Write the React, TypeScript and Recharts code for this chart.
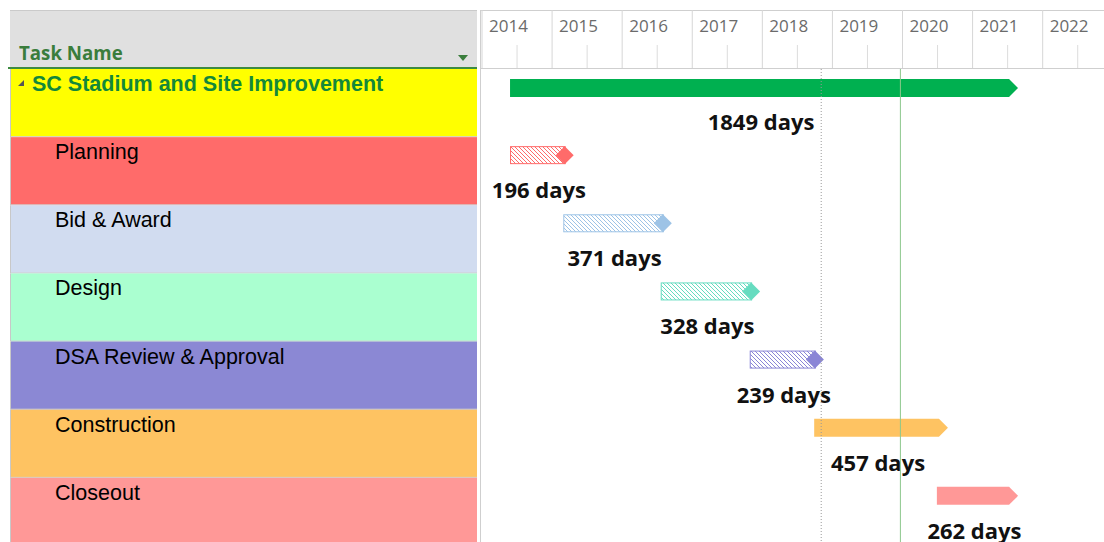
import React from "react";
import { Bar, BarChart, ReferenceLine, XAxis, YAxis } from "recharts";

// 甘特图：任务名称、起止年份（小数年）、工期标签
const tasks = [
  "SC Stadium and Site Improvement",
  "Planning",
  "Bid & Award",
  "Design",
  "DSA Review & Approval",
  "Construction",
  "Closeout",
];
const startYears = [2014.4, 2014.4, 2015.16, 2016.55, 2017.82, 2018.74, 2020.49];
const finishYears = [2021.52, 2015.18, 2016.58, 2017.84, 2018.75, 2020.52, 2021.52];
const durationDays = [1849, 196, 371, 328, 239, 457, 262];
const yearTicks = [2014, 2015, 2016, 2017, 2018, 2019, 2020, 2021, 2022];
const statusDate = 2018.84;
const currentDate = 2019.97;

// 样式（与数据分开）
const rowFills = ["#FFFF00", "#FF6B6A", "#D1DCF0", "#AAFFD0", "#8B88D4", "#FEC362", "#FF9897"];
const barColors = ["#00B050", "#FF6B6A", "#9DC3E6", "#66DCC0", "#8A85D6", "#FEC362", "#FF9897"];
const barKinds = ["summary", "hatched", "hatched", "hatched", "hatched", "solid", "solid"];

const W = 1104;
const H = 546;
const HEADER_TOP = 10;
const HEADER_BOTTOM = 69;
const ROW_H = (H - HEADER_BOTTOM) / tasks.length;
const LEFT_W = 482;

const data = tasks.map((task, i) => ({
  task,
  span: [startYears[i], finishYears[i]],
  days: durationDays[i],
}));

// 时间轴刻度：整年画竖线和年份，半年只画短线
function YearTick(props: any) {
  const { x, payload } = props;
  const v = payload.value as number;
  if (!Number.isInteger(v)) {
    return <line x1={x} x2={x} y1={45} y2={HEADER_BOTTOM - 1} stroke="#dcdcdc" />;
  }
  return (
    <g>
      <line x1={x} x2={x} y1={HEADER_TOP} y2={HEADER_BOTTOM - 1} stroke="#d6d6d6" />
      <text
        x={x + 7}
        y={32}
        fontFamily="'Open Sans', sans-serif"
        fontSize={17}
        fill="#6b6b6b"
      >
        {v}
      </text>
    </g>
  );
}

// 左侧任务表：每行底色 + 任务名
function TaskTick(props: any) {
  const { y, index, payload } = props;
  const top = y - ROW_H / 2;
  const isSummary = index === 0;
  return (
    <g>
      <rect x={11} y={top} width={466} height={ROW_H} fill={rowFills[index]} />
      <line x1={10.5} x2={10.5} y1={top} y2={top + ROW_H} stroke="#c8c8c8" />
      <line x1={11} x2={477} y1={top + ROW_H - 0.5} y2={top + ROW_H - 0.5} stroke="#d2d2d2" />
      {isSummary && <polygon points={`18,${top + 17} 24,${top + 11} 24,${top + 17}`} fill="#555" />}
      <text
        x={isSummary ? 32 : 55}
        y={top + 22}
        fontFamily="'Liberation Sans', Arial, sans-serif"
        fontSize={21.5}
        fontWeight={isSummary ? 700 : 400}
        fill={isSummary ? "#13883A" : "#000"}
      >
        {payload.value}
      </text>
    </g>
  );
}

// 甘特条：汇总/实心为箭头形，阴影条末端带菱形；下方标注工期
function GanttBar(props: any) {
  const { x, y, width, index, payload } = props;
  const color = barColors[index];
  const kind = barKinds[index];
  const h = 18;
  const top = y + (kind === "summary" ? 10 : 9);
  const mid = top + h / 2;
  const end = x + width;
  const tip = 9;
  const label = (
    <text
      x={x + width / 2 + 1.5}
      y={y + 61}
      textAnchor="middle"
      fontFamily="'Open Sans', sans-serif"
      fontWeight={700}
      fontSize={22}
      fill="#111"
    >
      {`${payload.days} days`}
    </text>
  );
  if (kind === "hatched") {
    const pid = `hatch-${index}`;
    return (
      <g>
        <defs>
          <pattern id={pid} width={4} height={4} patternUnits="userSpaceOnUse">
            <rect width={4} height={4} fill="#fff" />
            <path d="M-1,-1 L5,5 M-1,3 L1,5 M3,-1 L5,1" stroke={color} strokeWidth={1} />
          </pattern>
        </defs>
        <rect x={x + 0.5} y={top + 0.5} width={width} height={h - 1} fill={`url(#${pid})`} stroke={color} />
        <polygon
          points={`${end - tip},${mid} ${end},${mid - tip} ${end + tip},${mid} ${end},${mid + tip}`}
          fill={color}
        />
        {label}
      </g>
    );
  }
  return (
    <g>
      <polygon
        points={`${x},${top} ${end},${top} ${end + tip},${mid} ${end},${top + h} ${x},${top + h}`}
        fill={color}
      />
      {label}
    </g>
  );
}

export default function App() {
  const halfTicks = yearTicks.map((yr) => yr + 0.5);
  const ticks = [...yearTicks, ...halfTicks].sort((a, b) => a - b);
  return (
    <div
      style={{
        position: "absolute",
        left: 0,
        top: 0,
        width: W,
        height: 542,
        overflow: "hidden",
        background: "#fff",
      }}
    >
      {/* 表头与分隔线（静态框架） */}
      <svg width={W} height={542} style={{ position: "absolute", left: 0, top: 0 }}>
        <rect x={10} y={HEADER_TOP} width={467} height={HEADER_BOTTOM - HEADER_TOP} fill="#E0E0E0" />
        <line x1={10} x2={477} y1={HEADER_TOP + 0.5} y2={HEADER_TOP + 0.5} stroke="#cacaca" />
        <line x1={8} x2={477} y1={HEADER_BOTTOM - 1} y2={HEADER_BOTTOM - 1} stroke="#3D8B40" strokeWidth={2} />
        <text x={19} y={60} fontFamily="'Open Sans', sans-serif" fontWeight={700} fontSize={18.7} fill="#3A7D3C">
          Task Name
        </text>
        <polygon points="458,55 468,55 463,61" fill="#3A7D3C" />
        <line x1={481} x2={W} y1={HEADER_TOP + 0.5} y2={HEADER_TOP + 0.5} stroke="#cfcfcf" />
        <line x1={481} x2={W} y1={HEADER_BOTTOM - 0.5} y2={HEADER_BOTTOM - 0.5} stroke="#cfcfcf" />
        <line x1={480.5} x2={480.5} y1={HEADER_TOP} y2={542} stroke="#cfcfcf" />
      </svg>
      <div style={{ position: "absolute", left: 0, top: 0 }}>
        <BarChart
          width={W}
          height={H}
          data={data}
          layout="vertical"
          margin={{ top: HEADER_TOP, right: 0, bottom: 0, left: 0 }}
          barCategoryGap={0}
        >
          <XAxis
            type="number"
            orientation="top"
            domain={[2014, 2022.875]}
            ticks={ticks}
            interval={0}
            height={HEADER_BOTTOM - HEADER_TOP}
            axisLine={false}
            tickLine={false}
            allowDataOverflow
            tick={<YearTick />}
          />
          <YAxis
            type="category"
            dataKey="task"
            width={LEFT_W}
            interval={0}
            axisLine={false}
            tickLine={false}
            tick={<TaskTick />}
          />
          <Bar dataKey="span" shape={<GanttBar />} isAnimationActive={false} />
          <ReferenceLine x={statusDate} stroke="#9a9a9a" strokeDasharray="1 2" />
          <ReferenceLine x={currentDate} stroke="#8cc78c" />
        </BarChart>
      </div>
    </div>
  );
}
